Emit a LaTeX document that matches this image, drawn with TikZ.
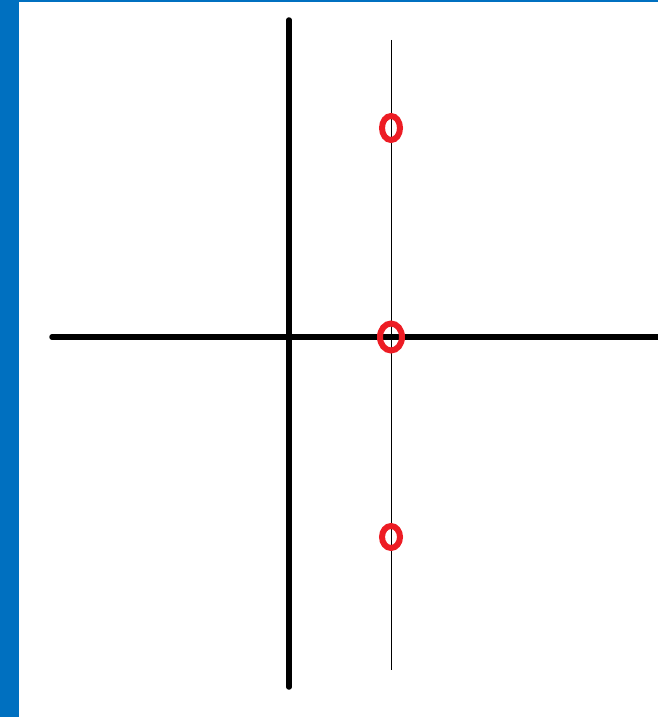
\documentclass[tikz,border=0pt]{standalone}
\usetikzlibrary{shapes.geometric}
\definecolor{band}{HTML}{0070C0}
\definecolor{mark}{HTML}{ED1C24}
\tikzset{
  axis/.style={line width=5.5pt,draw=black,line cap=round},
  guide/.style={line width=1pt,draw=black},
  hole/.style={ellipse,draw=mark,line width=6pt,inner sep=0pt},
}
\begin{document}
\begin{tikzpicture}[x=1pt,y=-1pt]
\useasboundingbox (0,0) rectangle (658,717);
% frame
\fill[band] (0,0) rectangle (19,717);
\fill[band] (0,0) rectangle (658,2.5);

% axes
\coordinate (xl) at (52,337);
\coordinate (xr) at (660,337);
\coordinate (yt) at (289,20);
\coordinate (yb) at (289,687);
\draw[axis] (xl) -- (xr);
\draw[axis] (yt) -- (yb);

% vertical line through the points
\coordinate (gt) at (391,40);
\coordinate (gb) at (391,670);
\draw[guide] (gt) -- (gb);

% points
\node[hole,minimum width=18pt,minimum height=24pt] (p1) at (391,128) {};
\node[hole,minimum width=22pt,minimum height=27pt] (p2) at (391,337) {};
\node[hole,minimum width=18pt,minimum height=22pt] (p3) at (391,537) {};
\end{tikzpicture}
\end{document}
